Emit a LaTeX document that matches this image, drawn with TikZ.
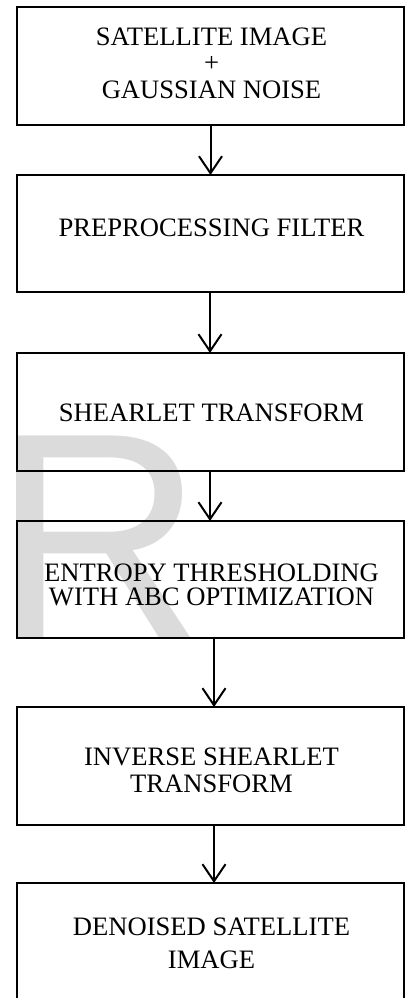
\documentclass[tikz,border=0pt]{standalone}
\usepackage{fontspec}
\setmainfont{Liberation Serif}
\newfontfamily\wmfont{Liberation Sans}
\usetikzlibrary{arrows.meta}
\begin{document}
\begin{tikzpicture}[x=1pt,y=-1pt,
  box/.style={draw=black,line width=2pt,minimum width=387pt,inner sep=0pt,outer sep=0pt},
  lbl/.style={font=\fontsize{26.6}{26.5}\selectfont,align=center,inner sep=0pt,text=black},
  conn/.style={draw=black,line width=2pt,-{Straight Barb[length=17pt,width=23pt,line width=2pt]}}]
\useasboundingbox (0,0) rectangle (405,998);
\fill[white] (0,0) rectangle (405,998);
% watermark
\node[anchor=base west,inner sep=0pt,text=black!14,font=\wmfont\fontsize{293}{300}\selectfont] (wm) at (0,637) {\kern-8pt R};
% boxes
\node[box,minimum height=118pt] (b1) at (210.5,66) {};
\node[box,minimum height=117pt] (b2) at (210.5,233.5) {};
\node[box,minimum height=118pt] (b3) at (210.5,412) {};
\node[box,minimum height=117pt] (b4) at (210.5,579.5) {};
\node[box,minimum height=118pt] (b5) at (210.5,766) {};
\node[box,minimum height=118pt] (b6) at (210.5,942) {};
% labels
\node[lbl] (t1) at (211.5,63) {SATELLITE IMAGE\\+\\GAUSSIAN NOISE};
\node[lbl] (t2) at (211.5,228) {PREPROCESSING FILTER};
\node[lbl] (t3) at (211.5,413) {SHEARLET TRANSFORM};
\node[lbl,font=\fontsize{26.6}{24.5}\selectfont] (t4) at (211.5,585) {ENTROPY THRESHOLDING\\WITH ABC OPTIMIZATION};
\node[lbl,font=\fontsize{26.6}{27}\selectfont] (t5) at (211.5,770) {INVERSE SHEARLET\\TRANSFORM};
\node[lbl,font=\fontsize{26.6}{33}\selectfont] (t6) at (211.5,943) {DENOISED SATELLITE\\IMAGE};
% connectors
\draw[conn] (b1.south) -- (b2.north);
\draw[conn] ([xshift=-0.5pt]b2.south) -- ([xshift=-0.5pt]b3.north);
\draw[conn] ([xshift=-0.5pt]b3.south) -- ([xshift=-0.5pt]b4.north);
\draw[conn] ([xshift=3.5pt]b4.south) -- ([xshift=3.5pt]b5.north);
\draw[conn] ([xshift=3.5pt]b5.south) -- ([xshift=3.5pt]b6.north);
\end{tikzpicture}
\end{document}
